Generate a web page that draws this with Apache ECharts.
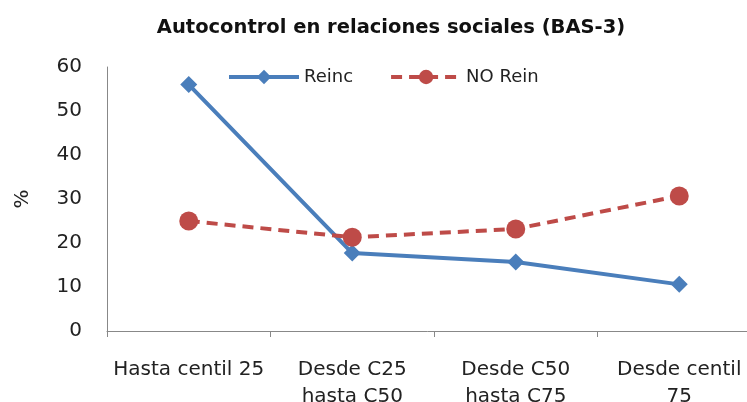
<!DOCTYPE html>
<html>
<head>
<meta charset="utf-8">
<script src="https://cdn.jsdelivr.net/npm/echarts@6/dist/echarts.min.js"></script>
<style>
  html, body { margin: 0; padding: 0; background: #fff; }
  #chart { width: 747px; height: 402px; }
</style>
</head>
<body>
<div id="chart"></div>
<script>
// categorias del eje x
var categories = ["Hasta centil 25", "Desde C25\nhasta C50", "Desde C50\nhasta C75", "Desde centil\n75"];
// valores (%)
var reinc = [56, 17.7, 15.7, 10.6];
var noRein = [25, 21.3, 23.2, 30.7];
var yTicks = { min: 0, max: 60, interval: 10 };

var myChart = echarts.init(document.getElementById("chart"));
var font = "'DejaVu Sans', sans-serif";

var options = {
  animation: false,
  title: {
    text: "Autocontrol en relaciones sociales (BAS-3)",
    left: 386,
    top: 13,
    textAlign: "center",
    textStyle: { fontFamily: font, fontSize: 19.5, fontWeight: "bold", color: "#111" },
  },
  legend: {
    left: 227,
    top: 68,
    padding: 0,
    itemWidth: 70,
    itemHeight: 18,
    itemGap: 36,
    lineStyle: { width: 4 },
    textStyle: { fontFamily: font, fontSize: 18, color: "#222" },
    data: ["Reinc", "NO Rein"],
  },
  grid: { left: 107, right: -14, top: 67, bottom: 71, outerBoundsMode: "none" },
  xAxis: {
    type: "category",
    data: categories,
    axisLine: { lineStyle: { color: "#888", width: 1 } },
    axisTick: { show: true, length: 6, lineStyle: { color: "#888" } },
    axisLabel: { fontFamily: font, fontSize: 20, color: "#222", margin: 25, lineHeight: 27, interval: 0 },
  },
  yAxis: {
    type: "value",
    min: yTicks.min,
    max: yTicks.max,
    interval: yTicks.interval,
    name: "%",
    nameLocation: "middle",
    nameGap: 74,
    nameTextStyle: { fontFamily: font, fontSize: 20, color: "#222" },
    axisLine: { show: true, lineStyle: { color: "#888", width: 1 } },
    axisTick: { show: false },
    splitLine: { show: false },
    axisLabel: { fontFamily: font, fontSize: 20, color: "#222", margin: 25 },
  },
  series: [
    {
      name: "Reinc",
      type: "line",
      data: reinc,
      symbol: "diamond",
      symbolSize: 17,
      color: "#4A7EBB",
      lineStyle: { width: 4, color: "#4A7EBB" },
      itemStyle: { color: "#4A7EBB" },
    },
    {
      name: "NO Rein",
      type: "line",
      data: noRein,
      symbol: "circle",
      symbolSize: 19,
      color: "#BE4B48",
      lineStyle: { width: 4, type: [11, 7], color: "#BE4B48" },
      itemStyle: { color: "#BE4B48" },
    },
  ],
};
myChart.setOption(options);
</script>
</body>
</html>
